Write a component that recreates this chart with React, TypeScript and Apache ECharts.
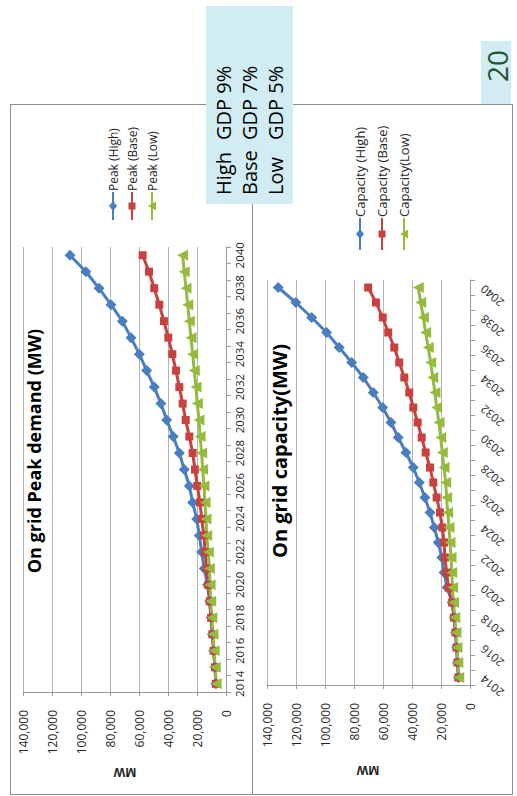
import React, { useEffect, useRef } from "react";
import * as echarts from "echarts";

const years = [
  "2014", "2015", "2016", "2017", "2018", "2019", "2020", "2021", "2022",
  "2023", "2024", "2025", "2026", "2027", "2028", "2029", "2030", "2031",
  "2032", "2033", "2034", "2035", "2036", "2037", "2038", "2039", "2040",
];

const peakHigh = [7000, 7600, 8500, 9400, 10300, 11300, 12800, 15000, 16800, 18400, 20200, 23000, 25300, 28800, 32200, 36400, 40900, 44900, 49500, 54700, 59800, 65500, 71500, 79300, 87600, 96600, 107600];
const peakBase = [7000, 7600, 8500, 9400, 10300, 11200, 12300, 13300, 14500, 15200, 16800, 17900, 19800, 21400, 23000, 25300, 27800, 29900, 32200, 34500, 37000, 39800, 42800, 46000, 49500, 53100, 57500];
const peakLow = [6800, 7400, 8200, 9000, 9800, 10500, 11000, 11500, 12200, 13300, 13800, 14500, 15200, 16100, 16800, 17900, 18600, 19800, 20700, 21900, 23000, 24200, 25300, 26400, 27600, 28800, 29900];

const capHigh = [8000, 8600, 9300, 10000, 11000, 12300, 15800, 17900, 19500, 21900, 24600, 27600, 31100, 35000, 39100, 44200, 49500, 54500, 60200, 66700, 73600, 81600, 90200, 98900, 109200, 120100, 132300];
const capBase = [8000, 8600, 9300, 10000, 11000, 12300, 14800, 16100, 17300, 17900, 19100, 20700, 23000, 25300, 27600, 30600, 33300, 36100, 39100, 41900, 45300, 48800, 52200, 56400, 60200, 64900, 70200];
const capLow = [7800, 8400, 9000, 9700, 10500, 11400, 12000, 12600, 13100, 13800, 14500, 15400, 16100, 16800, 17900, 19100, 20200, 21400, 23000, 24200, 25700, 27100, 28800, 30600, 32200, 34000, 35700];

const peakTitle = "On grid Peak demand (MW)";
const capTitle = "On grid capacity(MW)";
const peakNames = ["Peak (High)", "Peak (Base)", "Peak (Low)"];
const capNames = ["Capacity (High)", "Capacity (Base)", "Capacity(Low)"];
const scenarioNames = ["High", "Base", "Low"];
const scenarioGdp = ["GDP 9%", "GDP 7%", "GDP 5%"];
const pageNumber = "20";
const axisUnit = "MW";

const FONT = '"Open Sans", "Noto Sans", sans-serif';
const BLUE = "#4a7ebf";
const RED = "#c8413f";
const GREEN = "#94bb3c";
const GRID = "#b4b4b4";
const AXIS = "#9a9a9a";
const BOXBG = "#d2ecf3";
const LABEL = "#262626";

function legendItem(x: number, y1: number, y2: number, ym: number, color: string, kind: string, text: string, fs: number) {
  const els: any[] = [
    { type: "line", shape: { x1: x, y1, x2: x, y2 }, style: { stroke: color, lineWidth: 2 } },
  ];
  if (kind === "diamond") {
    els.push({ type: "polygon", shape: { points: [[x, ym - 5], [x + 4, ym], [x, ym + 5], [x - 4, ym]] }, style: { fill: color } });
  } else if (kind === "rect") {
    els.push({ type: "rect", shape: { x: x - 3.5, y: ym - 3.5, width: 7, height: 7 }, style: { fill: color } });
  } else {
    els.push({ type: "polygon", shape: { points: [[x - 4, ym], [x + 4, ym - 4.5], [x + 4, ym + 4.5]] }, style: { fill: color } });
  }
  els.push({
    type: "text", x, y: y1 - 1, rotation: Math.PI / 2,
    style: { text, fontSize: fs, fontFamily: FONT, fill: LABEL, align: "left", verticalAlign: "middle" },
  });
  return els;
}

export default function App() {
  const ref = useRef<HTMLDivElement>(null);
  useEffect(() => {
    if (!ref.current) return;
    const chart = echarts.init(ref.current, undefined, { renderer: "svg" });

    const valueAxis = (gi: number) => ({
      type: "value", gridIndex: gi, inverse: true, min: 0, max: 140000, interval: 20000, position: "bottom",
      axisLine: { show: true, lineStyle: { color: AXIS } },
      axisTick: { show: true, length: 4, lineStyle: { color: AXIS } },
      splitLine: { show: true, lineStyle: { color: GRID, width: 1 } },
      axisLabel: {
        rotate: 90, margin: 18, align: "right", verticalAlign: "middle", fontSize: 12, fontFamily: FONT, color: LABEL,
        formatter: (v: number) => v.toLocaleString("en-US"),
      },
    });

    const series = (name: string, data: number[], color: string, symbol: string, size: number, gi: number, rot = 0) => ({
      type: "line", name, data, xAxisIndex: gi, yAxisIndex: gi, symbol, symbolSize: size, symbolRotate: rot,
      lineStyle: { color, width: 3 }, itemStyle: { color }, showSymbol: true, showAllSymbol: true,
    });

    const graphics: any[] = [
      { type: "line", shape: { x1: 10, y1: 104.5, x2: 513, y2: 104.5 }, style: { stroke: "#8c8c8c", lineWidth: 1 } },
      { type: "line", shape: { x1: 10.5, y1: 104, x2: 10.5, y2: 794 }, style: { stroke: "#8c8c8c", lineWidth: 1 } },
      { type: "line", shape: { x1: 512.5, y1: 104, x2: 512.5, y2: 794 }, style: { stroke: "#8c8c8c", lineWidth: 1 } },
      { type: "line", shape: { x1: 10, y1: 794.5, x2: 513, y2: 794.5 }, style: { stroke: "#8c8c8c", lineWidth: 1 } },
      { type: "line", shape: { x1: 252.5, y1: 104, x2: 252.5, y2: 794 }, style: { stroke: "#8c8c8c", lineWidth: 1 } },
      { type: "rect", shape: { x: 206, y: 6, width: 87, height: 198 }, style: { fill: BOXBG } },
      { type: "rect", shape: { x: 481, y: 41, width: 30, height: 63 }, style: { fill: BOXBG } },
      {
        type: "text", x: 497, y: 66, rotation: Math.PI / 2,
        style: { text: pageNumber, fontSize: 28, fontFamily: FONT, fill: "#1e5631", align: "center", verticalAlign: "middle" },
      },
      {
        type: "text", x: 34, y: 451, rotation: Math.PI / 2,
        style: { text: peakTitle, fontSize: 18, fontWeight: "bold", fontFamily: FONT, fill: "#000", align: "center", verticalAlign: "middle" },
      },
      {
        type: "text", x: 279, y: 451, rotation: Math.PI / 2,
        style: { text: capTitle, fontSize: 20, fontWeight: "bold", fontFamily: FONT, fill: "#000", align: "center", verticalAlign: "middle" },
      },
      {
        type: "text", x: 125, y: 772, rotation: Math.PI,
        style: { text: axisUnit, fontSize: 12, fontWeight: "bold", fontFamily: FONT, fill: LABEL, align: "center", verticalAlign: "middle" },
      },
      {
        type: "text", x: 368, y: 770, rotation: Math.PI,
        style: { text: axisUnit, fontSize: 12, fontWeight: "bold", fontFamily: FONT, fill: LABEL, align: "center", verticalAlign: "middle" },
      },
    ];
    const lineX = [223, 249, 275];
    scenarioNames.forEach((s, i) => {
      graphics.push({
        type: "text", x: lineX[i], y: 195, rotation: Math.PI / 2,
        style: { text: s, fontSize: 20, fontFamily: FONT, fill: "#000", align: "left", verticalAlign: "middle" },
      });
      graphics.push({
        type: "text", x: lineX[i], y: 140, rotation: Math.PI / 2,
        style: { text: scenarioGdp[i], fontSize: 20, fontFamily: FONT, fill: "#000", align: "left", verticalAlign: "middle" },
      });
    });
    const colors = [BLUE, RED, GREEN];
    const kinds = ["diamond", "rect", "triangle"];
    const lx1 = [113, 132, 152];
    const lx2 = [360, 382, 404];
    for (let i = 0; i < 3; i++) {
      graphics.push(...legendItem(lx1[i], 192, 220, 206, colors[i], kinds[i], peakNames[i], 12));
      graphics.push(...legendItem(lx2[i], 218, 250, 234, colors[i], kinds[i], capNames[i], 13));
    }

    chart.setOption({
      animation: false,
      backgroundColor: "#fff",
      grid: [
        { left: 23, top: 247, width: 203, height: 445 },
        { left: 267, top: 280, width: 203, height: 405 },
      ],
      xAxis: [valueAxis(0), valueAxis(1)],
      yAxis: [
        {
          type: "category", gridIndex: 0, position: "right", data: years, boundaryGap: true,
          axisLine: { show: true, lineStyle: { color: AXIS } },
          axisTick: { show: true, interval: 0, length: 5, lineStyle: { color: AXIS } },
          splitLine: { show: false },
          axisLabel: { interval: 1, rotate: 90, margin: 7, align: "center", verticalAlign: "top", fontSize: 11.5, fontFamily: FONT, color: LABEL },
        },
        {
          type: "category", gridIndex: 1, position: "right", data: years, boundaryGap: true,
          axisLine: { show: true, lineStyle: { color: AXIS } },
          axisTick: { show: true, interval: 0, length: 5, lineStyle: { color: AXIS } },
          splitLine: { show: false },
          axisLabel: { interval: 1, rotate: 140, margin: 12, align: "right", verticalAlign: "middle", fontSize: 11.5, fontFamily: FONT, color: LABEL },
        },
      ],
      series: [
        series(peakNames[0], peakHigh, BLUE, "diamond", 11, 0),
        series(peakNames[1], peakBase, RED, "rect", 8, 0),
        series(peakNames[2], peakLow, GREEN, "triangle", 11, 0, 90),
        series(capNames[0], capHigh, BLUE, "diamond", 11, 1),
        series(capNames[1], capBase, RED, "rect", 8, 1),
        series(capNames[2], capLow, GREEN, "triangle", 11, 1, 90),
      ],
      graphic: graphics,
    });
    return () => chart.dispose();
  }, []);
  return <div ref={ref} style={{ position: "absolute", left: 0, top: 0, width: 517, height: 796, background: "#fff" }} />;
}
